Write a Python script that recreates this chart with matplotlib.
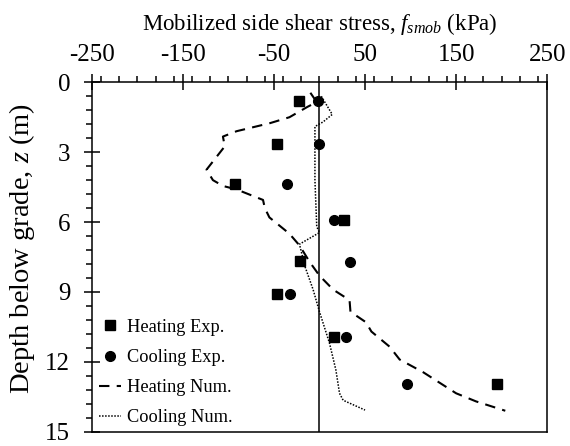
import matplotlib.pyplot as plt
from matplotlib.ticker import MultipleLocator

plt.rcParams["font.family"] = "Liberation Serif"
plt.rcParams["mathtext.fontset"] = "custom"
plt.rcParams["mathtext.rm"] = "Liberation Serif"
plt.rcParams["mathtext.it"] = "Liberation Serif:italic"
plt.rcParams["axes.unicode_minus"] = False

# mediciones (profundidad en m, esfuerzo en kPa)
prof_exp = [0.8, 2.65, 4.37, 5.91, 7.68, 9.1, 10.92, 12.97]
calent_exp = [-22.5, -46.7, -93.2, 26.6, -21.0, -46.7, 15.6, 195.0]
prof_enfr = [0.8, 2.65, 4.37, 5.91, 7.7, 9.1, 10.92, 12.97]
enfr_exp = [-1.2, -0.5, -35.7, 15.6, 33.5, -32.7, 28.8, 96.6]

# modelo numerico
prof_calent_num = [0.45, 0.85, 1.05, 1.5, 1.75, 2.1, 2.33, 2.75, 3.75, 4.2, 4.45, 4.6,
                   5.05, 5.4, 5.8, 6.5, 7.0, 7.7, 8.3, 8.9, 9.35, 9.85, 10.3, 10.7,
                   11.35, 11.9, 12.45, 13.35, 13.7, 14.1]
calent_num = [-10, -3, -13, -33, -54, -91, -106, -104, -124, -117, -106, -91,
              -62, -60, -55, -33, -22, -11, 0, 15, 33, 34, 51, 57,
              77, 88, 114, 150, 172, 204]
prof_enfr_num = [0.6, 1.38, 1.7, 1.9, 4.2, 6.2, 6.45, 6.95, 7.9, 8.9, 9.85, 11.2,
                 12.35, 13.35, 13.65, 14.07]
enfr_num = [2, 14, 4, -5, -5, -3, 0, -22, -16, -7, 0, 11, 18, 22, 26, 50]

fig = plt.figure(figsize=(5.7, 4.46), dpi=100)
ax = fig.add_axes([0.161, 0.032, 0.799, 0.7835])

ax.axvline(0, color="black", linewidth=1.1, zorder=1)
ax.plot(calent_exp, prof_exp, "s", color="black", markersize=7, label="Heating Exp.")
ax.plot(enfr_exp, prof_enfr, "o", color="black", markersize=7, label="Cooling Exp.")
ax.plot(calent_num, prof_calent_num, color="black", linewidth=1.5,
        dashes=(5, 3.5), label="Heating Num.")
ax.plot(enfr_num, prof_enfr_num, color="black", linewidth=1.1,
        linestyle=(0, (1, 1)), label="Cooling Num.")

ax.set_xlim(-250, 250)
ax.set_ylim(15, 0)
ax.xaxis.set_minor_locator(MultipleLocator(20))
ax.yaxis.set_major_locator(MultipleLocator(3))
ax.yaxis.set_minor_locator(MultipleLocator(0.6))
ax.set_xticks(range(-250, 251, 100))
ax.xaxis.tick_top()
ax.xaxis.set_label_position("top")
ax.tick_params(which="major", direction="inout", length=11, width=1.1, labelsize=18)
ax.tick_params(which="minor", direction="out", length=4, width=1.1)
ax.tick_params(axis="x", which="major", pad=6)
ax.tick_params(axis="y", which="major", pad=10)
for s in ax.spines.values():
    s.set_linewidth(1.1)

ax.set_xlabel(r"Mobilized side shear stress, $f_{smob}$ (kPa)", fontsize=16.5, labelpad=10)
ax.set_ylabel(r"Depth below grade, $z$ (m)", fontsize=20.5)
ax.yaxis.set_label_coords(-0.12, 0.525)

ax.legend(loc="lower left", frameon=False, fontsize=13.2, handlelength=1.2,
          handletextpad=0.3, labelspacing=0.72, borderaxespad=0.0,
          bbox_to_anchor=(0, -0.006))

plt.savefig("out.png", dpi=100)
